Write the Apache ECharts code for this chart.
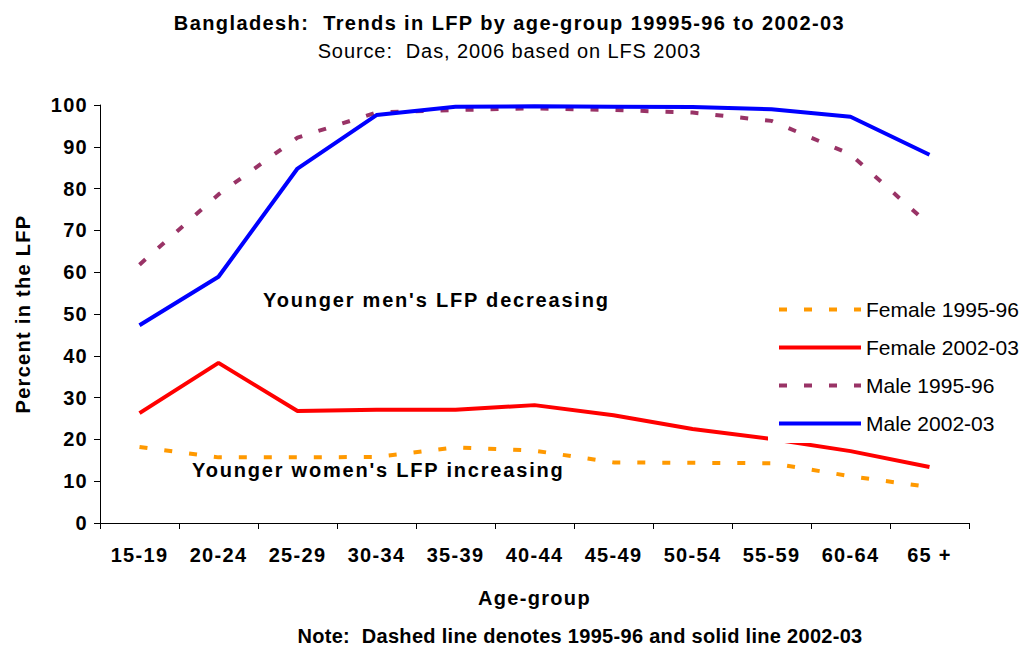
<!DOCTYPE html>
<html>
<head>
<meta charset="utf-8">
<script src="https://cdn.jsdelivr.net/npm/echarts@6/dist/echarts.min.js"></script>
<style>html,body{margin:0;padding:0;background:#fff}#c{width:1019px;height:646px}</style>
</head>
<body>
<div id="c"></div>
<script>
var categories = ['15-19','20-24','25-29','30-34','35-39','40-44','45-49','50-54','55-59','60-64','65 +'];
var female9596 = [18.2, 15.7, 15.7, 15.8, 18.1, 17.3, 14.5, 14.4, 14.3, 11.2, 8.6];
var female0203 = [26.3, 38.3, 26.8, 27.1, 27.1, 28.2, 25.8, 22.5, 20.1, 17.2, 13.4];
var male9596 = [61.8, 78.6, 92.2, 98.2, 98.8, 99.2, 98.8, 98.2, 96.2, 88.2, 71.3];
var male0203 = [47.3, 58.9, 84.8, 97.6, 99.6, 99.7, 99.6, 99.5, 99.0, 97.2, 88.1];
var yTicks = {min: 0, max: 100, interval: 10};
var seriesNames = ['Female 1995-96','Female 2002-03','Male 1995-96','Male 2002-03'];
var titleText = 'Bangladesh:  Trends in LFP by age-group 19995-96 to 2002-03';
var subText = 'Source:  Das, 2006 based on LFS 2003';
var noteText = 'Note:  Dashed line denotes 1995-96 and solid line 2002-03';
var annMen = "Younger men's LFP decreasing";
var annWomen = "Younger women's LFP increasing";

var font = 'Liberation Sans';
var chart = echarts.init(document.getElementById('c'), null, {renderer:'svg'});
function line(name, data, color, dashed){
  return {
    name: name, type: 'line', data: data, symbol: 'none', smooth: false,
    animation: false,
    lineStyle: {color: color, width: 4, type: dashed ? [8,17] : 'solid', cap: 'butt'},
    itemStyle: {color: color}
  };
}
chart.setOption({
  backgroundColor: '#ffffff',
  animation: false,
  textStyle: {fontFamily: font},
  title: [
    {text: titleText, left: 'center', top: 8,
     textStyle: {fontFamily: font, fontSize: 20, fontWeight: 'bold', color: '#000'}},
    {text: subText, left: 'center', top: 36,
     textStyle: {fontFamily: font, fontSize: 20, fontWeight: 'normal', color: '#000'}},
    {text: noteText, left: 575, textAlign: 'center', top: 621,
     textStyle: {fontFamily: font, fontSize: 20, fontWeight: 'bold', color: '#000'}}
  ],
  grid: {left: 100, right: 50, top: 105, bottom: 123, containLabel: false},
  legend: {
    orient: 'vertical', left: 768, top: 295,
    data: seriesNames,
    itemWidth: 82, itemHeight: 14, itemGap: 17,
    backgroundColor: '#ffffff', padding: [4, 4, 9, 9],
    itemStyle: {opacity: 0},
    lineStyle: {width: 4},
    textStyle: {fontFamily: font, fontSize: 21, color: '#000'}
  },
  xAxis: {
    type: 'category', data: categories, boundaryGap: true,
    name: 'Age-group', nameLocation: 'middle', nameGap: 65,
    nameTextStyle: {fontFamily: font, fontSize: 20, fontWeight: 'bold', color: '#000'},
    axisLine: {lineStyle: {color: '#000', width: 1}},
    axisTick: {show: true, alignWithLabel: false, length: 6, lineStyle: {color: '#000'}},
    axisLabel: {fontFamily: font, fontSize: 20, fontWeight: 'bold', color: '#000', margin: 22},
    splitLine: {show: false}
  },
  yAxis: {
    type: 'value', min: yTicks.min, max: yTicks.max, interval: yTicks.interval,
    name: 'Percent in the LFP', nameLocation: 'middle', nameGap: 67, nameRotate: 90,
    nameTextStyle: {fontFamily: font, fontSize: 20, fontWeight: 'bold', color: '#000'},
    axisLine: {show: true, lineStyle: {color: '#000', width: 1}},
    axisTick: {show: true, inside: false, length: 6, lineStyle: {color: '#000'}},
    axisLabel: {fontFamily: font, fontSize: 20, fontWeight: 'bold', color: '#000', margin: 12},
    splitLine: {show: false}
  },
  graphic: [
    {type: 'text', left: 263, top: 290, z: 100, style: {text: annMen, font: 'bold 20px Liberation Sans', fill: '#000'}},
    {type: 'text', left: 192, top: 460, z: 100, style: {text: annWomen, font: 'bold 20px Liberation Sans', fill: '#000'}}
  ],
  series: [
    line(seriesNames[0], female9596, '#FF9900', true),
    line(seriesNames[1], female0203, '#FF0000', false),
    line(seriesNames[2], male9596, '#993366', true),
    line(seriesNames[3], male0203, '#0000FF', false)
  ]
});
// widen text spacing to match the reference's loose letter spacing
var spacing = {};
spacing[titleText] = '1.4px';
spacing[subText] = '0.9px';
spacing[noteText] = '0.3px';
spacing[annMen] = '1.8px';
spacing[annWomen] = '1.8px';
seriesNames.forEach(function(n){ spacing[n] = '0px'; });
function applySpacing(){
  document.querySelectorAll('#c svg text').forEach(function(t){
    var s = spacing[t.textContent];
    t.style.letterSpacing = (s !== undefined) ? s : '1.3px';
  });
}
applySpacing();
chart.on('finished', applySpacing);
</script>
</body>
</html>
